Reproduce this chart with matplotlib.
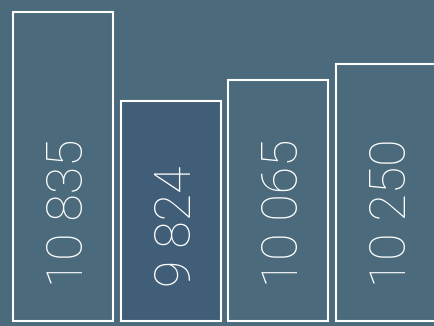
import matplotlib.pyplot as plt
import matplotlib.transforms as mtransforms

values = [10835, 9824, 10065, 10250]
labels = ["10 835", "9 824", "10 065", "10 250"]
fills = ["#4b6b7c", "#405e77", "#4b6b7c", "#4b6b7c"]

BG = "#4b6b7c"
BASE = 7324

fig = plt.figure(figsize=(4.34, 3.26), dpi=100, facecolor=BG)
ax = fig.add_axes([0, 0, 1, 1])
ax.set_facecolor(BG)

x = list(range(len(values)))
ax.bar(x, [v - BASE for v in values], bottom=BASE, width=0.928,
       color=fills, edgecolor="white", linewidth=1.5)

ax.set_xlim(-0.585, 3.445)
ax.set_ylim(BASE - 5 / 0.088, BASE + 321 / 0.088)
ax.axis("off")

trans = mtransforms.blended_transform_factory(ax.transData, ax.transAxes)
for i, lab in enumerate(labels):
    ax.text(i + 0.012, 0.12, lab, transform=trans, rotation=90, rotation_mode="anchor",
            ha="left", va="center_baseline", color="white", fontsize=36,
            family="Roboto", fontweight="light")

fig.savefig("out.png", dpi=100, facecolor=BG)
